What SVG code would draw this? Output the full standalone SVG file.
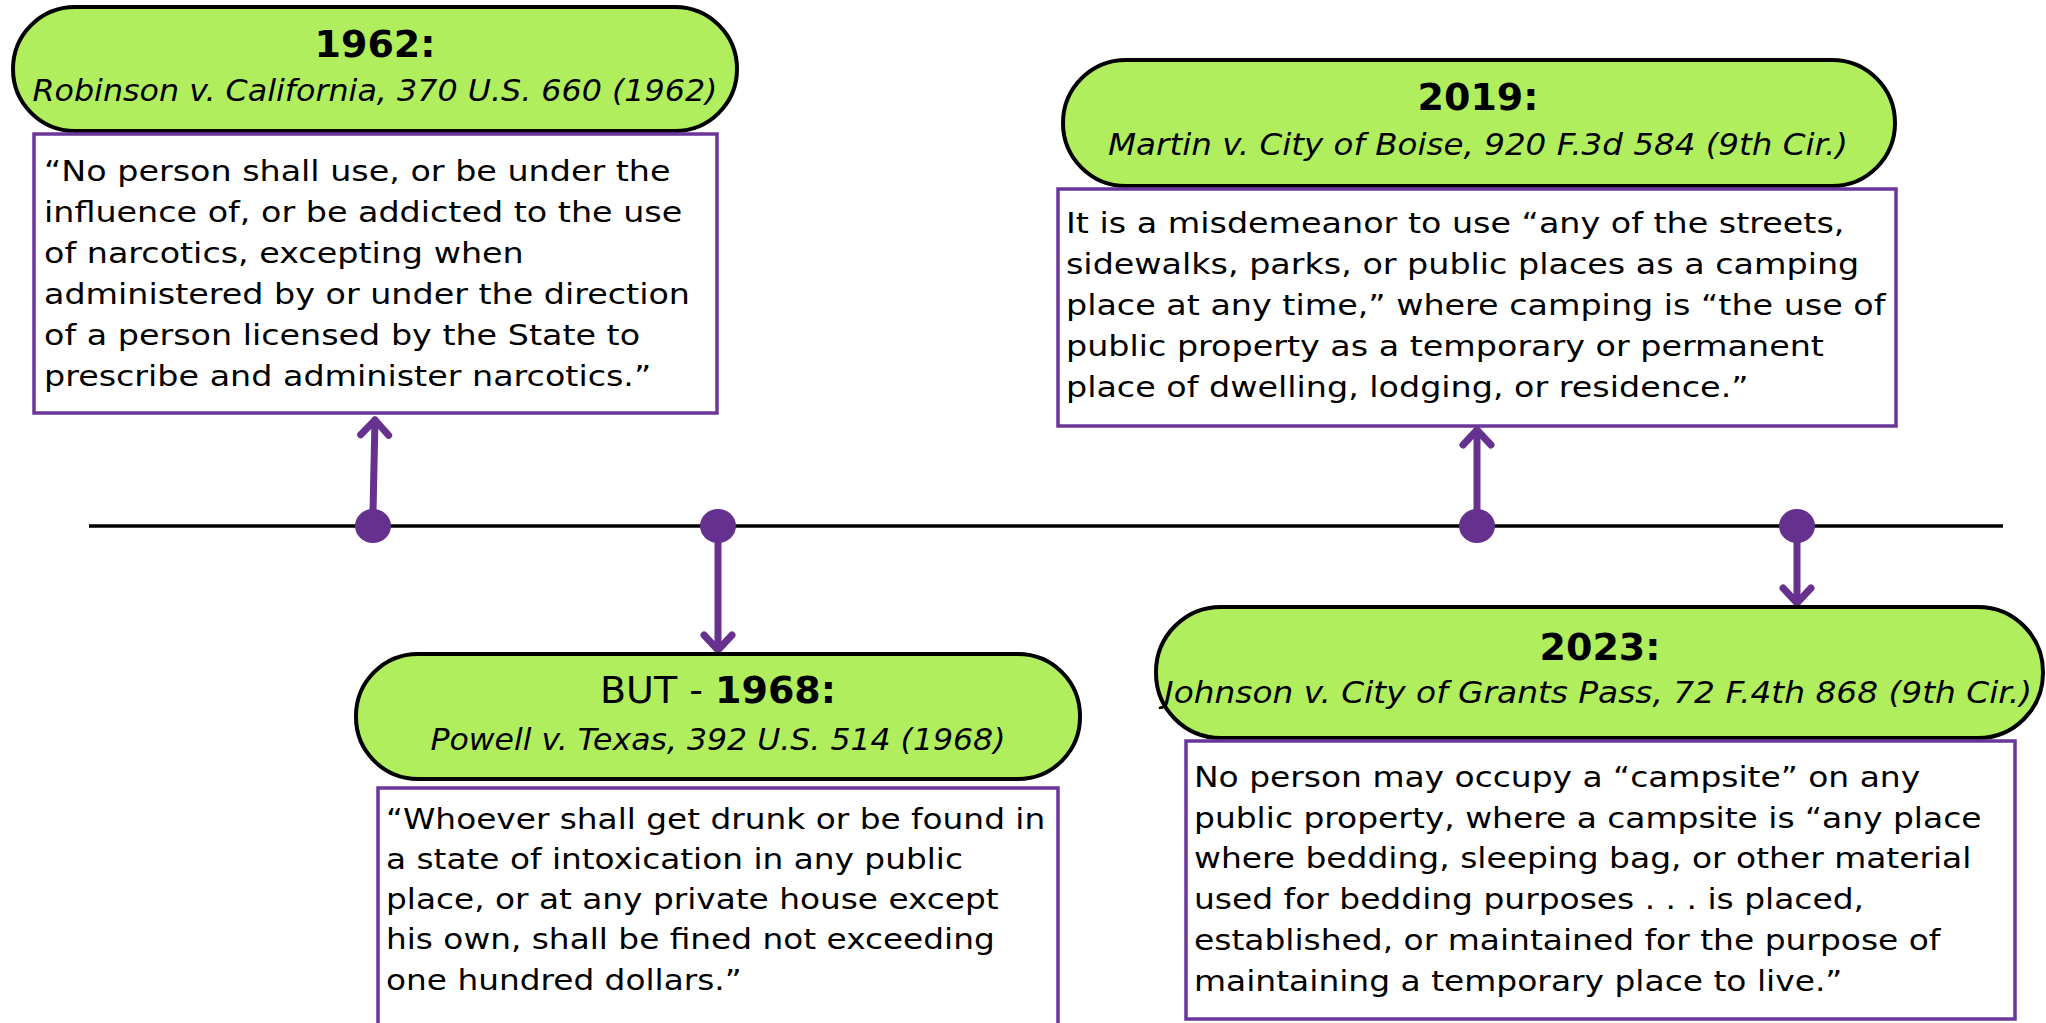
<svg xmlns="http://www.w3.org/2000/svg" width="2046" height="1023" viewBox="0 0 2046 1023">
<defs>
<style>
.pill{fill:#b0ee5e;stroke:#000;stroke-width:4}
.box{fill:#fff;stroke:#6a3699;stroke-width:3.5}
.yr{font-family:"DejaVu Sans","Liberation Sans",sans-serif;font-weight:bold;font-size:38px;fill:#000;text-anchor:middle}
.yr .lt{font-weight:normal}
.cite{font-family:"DejaVu Sans","Liberation Sans",sans-serif;font-style:italic;font-size:31px;fill:#000;text-anchor:middle}
.body{font-family:"DejaVu Sans","Liberation Sans",sans-serif;font-size:29px;fill:#000}
.conn{fill:none;stroke:#66318f;stroke-width:7;stroke-linecap:round}
.dot{fill:#65318e}
</style>
<marker id="chev" markerUnits="userSpaceOnUse" viewBox="-20 -20 40 40" markerWidth="40" markerHeight="40" refX="0" refY="0" orient="auto" overflow="visible">
<path d="M-15,-14 L0,0 L-15,14" fill="none" stroke="#66318f" stroke-width="7" stroke-linecap="round" stroke-linejoin="round"/>
</marker>
</defs>
<rect width="2046" height="1023" fill="#fff"/>

<g id="timeline">
<line x1="89" y1="526" x2="2003" y2="526" stroke="#000" stroke-width="3.5"/>
</g>

<g id="connectors">
<path class="conn" d="M373,512 L375,420" marker-end="url(#chev)"/>
<path class="conn" d="M718,540 L718,650" marker-end="url(#chev)"/>
<path class="conn" d="M1477,512 L1477,430" marker-end="url(#chev)"/>
<path class="conn" d="M1797,540 L1797,603" marker-end="url(#chev)"/>
</g>

<g id="dots">
<ellipse class="dot" cx="373" cy="526" rx="18" ry="17"/>
<ellipse class="dot" cx="718" cy="526" rx="18" ry="17"/>
<ellipse class="dot" cx="1477" cy="526" rx="18" ry="17"/>
<ellipse class="dot" cx="1797" cy="526" rx="18" ry="17"/>
</g>

<g id="header-1962">
<rect class="pill" x="13" y="7" width="724" height="124" rx="62" ry="62"/>
<text class="yr" x="375" y="57">1962:</text>
<text class="cite" x="375" y="101" textLength="685" lengthAdjust="spacingAndGlyphs">Robinson v. California, 370 U.S. 660 (1962)</text>
</g>

<g id="quote-1962">
<rect class="box" x="34" y="134" width="683" height="279"/>
<g transform="translate(44,0) scale(1.15,1)">
<text class="body" x="0" y="181">“No person shall use, or be under the</text>
<text class="body" x="0" y="222">influence of, or be addicted to the use</text>
<text class="body" x="0" y="263">of narcotics, excepting when</text>
<text class="body" x="0" y="304">administered by or under the direction</text>
<text class="body" x="0" y="345">of a person licensed by the State to</text>
<text class="body" x="0" y="386">prescribe and administer narcotics.”</text>
</g>
</g>

<g id="header-1968">
<rect class="pill" x="356" y="654" width="724" height="125" rx="62" ry="62"/>
<text class="yr" x="718" y="703"><tspan class="lt">BUT - </tspan>1968:</text>
<text class="cite" x="718" y="750" textLength="575" lengthAdjust="spacingAndGlyphs">Powell v. Texas, 392 U.S. 514 (1968)</text>
</g>

<g id="quote-1968">
<rect class="box" x="378" y="788" width="680" height="260"/>
<g transform="translate(386,0) scale(1.13,1)">
<text class="body" x="0" y="829">“Whoever shall get drunk or be found in</text>
<text class="body" x="0" y="869">a state of intoxication in any public</text>
<text class="body" x="0" y="909">place, or at any private house except</text>
<text class="body" x="0" y="949">his own, shall be fined not exceeding</text>
<text class="body" x="0" y="990">one hundred dollars.”</text>
</g>
</g>

<g id="header-2019">
<rect class="pill" x="1063" y="60" width="832" height="126" rx="63" ry="63"/>
<text class="yr" x="1478" y="110">2019:</text>
<text class="cite" x="1478" y="155" textLength="740" lengthAdjust="spacingAndGlyphs">Martin v. City of Boise, 920 F.3d 584 (9th Cir.)</text>
</g>

<g id="quote-2019">
<rect class="box" x="1058" y="189" width="838" height="237"/>
<g transform="translate(1066,0) scale(1.15,1)">
<text class="body" x="0" y="233">It is a misdemeanor to use “any of the streets,</text>
<text class="body" x="0" y="274">sidewalks, parks, or public places as a camping</text>
<text class="body" x="0" y="315">place at any time,” where camping is “the use of</text>
<text class="body" x="0" y="356">public property as a temporary or permanent</text>
<text class="body" x="0" y="397">place of dwelling, lodging, or residence.”</text>
</g>
</g>

<g id="header-2023">
<rect class="pill" x="1156" y="607" width="887" height="131" rx="65" ry="65"/>
<text class="yr" x="1600" y="660">2023:</text>
<text class="cite" x="1598" y="703" textLength="868" lengthAdjust="spacingAndGlyphs">Johnson v. City of Grants Pass, 72 F.4th 868 (9th Cir.)</text>
</g>

<g id="quote-2023">
<rect class="box" x="1186" y="741" width="829" height="278"/>
<g transform="translate(1194,0) scale(1.135,1)">
<text class="body" x="0" y="787">No person may occupy a “campsite” on any</text>
<text class="body" x="0" y="828">public property, where a campsite is “any place</text>
<text class="body" x="0" y="868">where bedding, sleeping bag, or other material</text>
<text class="body" x="0" y="909">used for bedding purposes . . . is placed,</text>
<text class="body" x="0" y="950">established, or maintained for the purpose of</text>
<text class="body" x="0" y="991">maintaining a temporary place to live.”</text>
</g>
</g>
</svg>
